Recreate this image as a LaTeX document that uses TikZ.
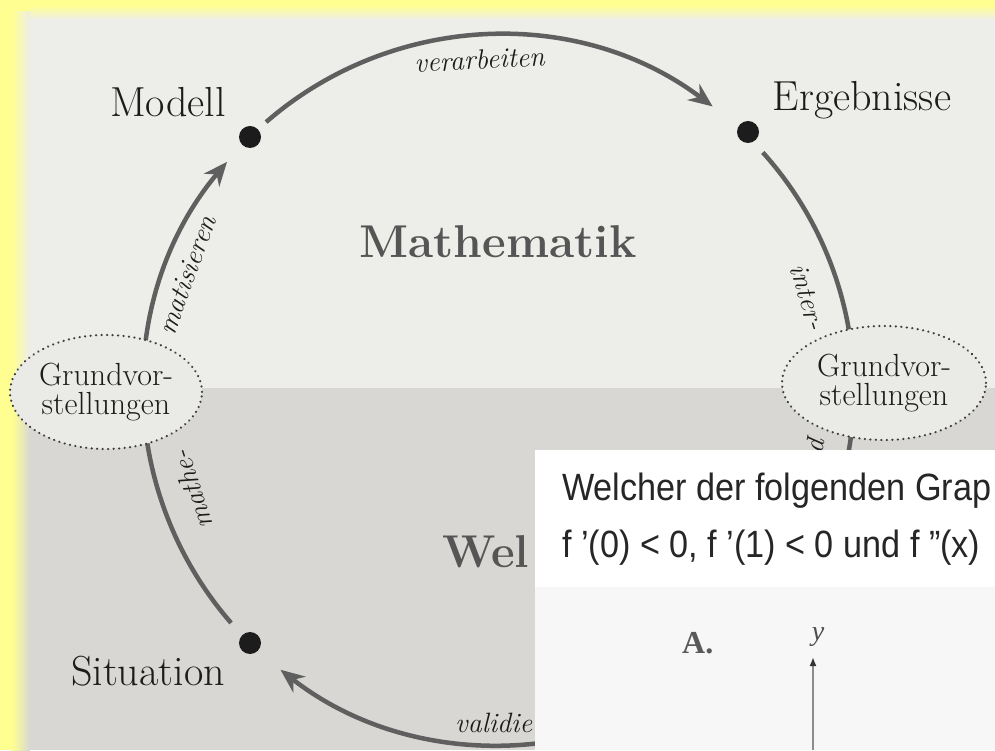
\documentclass[tikz,border=0pt]{standalone}
\usepackage{fontspec}
\newfontfamily\shotfont[FakeStretch=0.9]{Liberation Sans}
\newfontfamily\shotserif{Liberation Serif}
\usetikzlibrary{arrows.meta,positioning,calc,shapes.geometric}
\definecolor{ylw}{RGB}{255,255,145}
\definecolor{pageup}{RGB}{237,237,233}
\definecolor{pagelow}{RGB}{216,215,211}
\definecolor{ink}{RGB}{28,28,28}
\definecolor{arcgray}{RGB}{95,95,95}
\definecolor{headgray}{RGB}{85,85,85}
\definecolor{gvfill}{RGB}{234,234,231}
\definecolor{shotlow}{RGB}{247,247,247}

\begin{document}
\begin{tikzpicture}[x=1pt, y=1pt,
    dot/.style={circle, fill=ink, inner sep=0pt, minimum size=22pt},
    lbl/.style={font=\fontsize{42}{50}\selectfont, text=ink, inner sep=0pt},
    act/.style={font=\itshape\fontsize{28}{32}\selectfont, text=ink, inner sep=0pt},
    head/.style={font=\bfseries\fontsize{46}{54}\selectfont, text=headgray, inner sep=0pt},
    gv/.style={ellipse, draw=ink!85, fill=gvfill, line width=2.4pt, line cap=round,
      dash pattern=on 0.1pt off 5.4pt, inner sep=0pt, minimum width=192pt,
      minimum height=114pt, align=center, font=\fontsize{32}{29}\selectfont, text=ink},
    cyc/.style={draw=arcgray, line width=4.5pt},
    tip/.style={-{Stealth[length=24pt, width=20pt]}},
    shot/.style={font=\shotfont\fontsize{38}{44}\selectfont, text=black!85, inner sep=0pt}]
\useasboundingbox (0,0) rectangle (995,750);
\clip (0,0) rectangle (995,750);

% page on yellow
\fill[ylw] (0,0) rectangle (995,750);
\fill[pageup] (20,362) rectangle (995,738);
\fill[pagelow] (20,0) rectangle (995,362);
\shade[left color=ylw, right color=pageup] (12,362) rectangle (30,738);
\shade[left color=ylw, right color=pagelow] (12,0) rectangle (30,362);
\shade[top color=ylw, bottom color=pageup] (30,730) rectangle (995,745);

% cycle
\coordinate (c) at (499,360);
\coordinate (v0) at ($(c)+(131:355pt)$);
\coordinate (i0) at ($(c)+(42:355pt)$);
\coordinate (m0) at ($(c)+(221:355pt)$);
\coordinate (w0) at ($(c)+(300:355pt)$);
\draw[cyc, tip] (v0) arc[start angle=131, end angle=53, radius=355pt];
\draw[cyc] (i0) arc[start angle=42, end angle=-25, radius=355pt];
\draw[cyc, tip] (m0) arc[start angle=221, end angle=140, radius=355pt];
\draw[cyc, tip] (w0) arc[start angle=300, end angle=232, radius=355pt];

\node[dot] (modell) at (250,613) {};
\node[dot] (ergeb) at (748,618) {};
\node[dot] (situ) at (250,107) {};
\node[gv] (gvl) at (106,358) {Grundvor-\\stellungen};
\node[gv, minimum width=204pt] (gvr) at (884,367) {Grundvor-\\stellungen};

\node[lbl, anchor=base] (tmod) at (168,633) {Modell};
\node[lbl, anchor=base] (terg) at (862,639) {Ergebnisse};
\node[lbl, anchor=base] (tsit) at (148,65) {Situation};
\node[head, anchor=base] (math) at (498,492) {Mathematik};
\node[head, anchor=base west] (welt) at (442,183) {Wel};

\node[act, anchor=base, rotate=3] (lverarb) at (480,681) {verarbeiten};
\node[act, rotate=-73] (linter) at (808,453) {inter-};
\node[act, anchor=west, rotate=-100] (lpret) at (817,314) {p};
\node[act, rotate=70] (lmatis) at (187,475) {matisieren};
\node[act, rotate=108] (lmathe) at (192,260) {mathe-};
\node[act, anchor=base west] (lvalid) at (455,18) {validie};

% screenshot on top
\fill[white] (535,0) rectangle (995,300);
\fill[shotlow] (535,0) rectangle (995,163);
\node[shot, anchor=base west] (q1) at (562,250) {Welcher der folgenden Grap};
\node[shot, anchor=base west] (q2) at (562,193) {f ’(0) < 0, f ’(1) < 0 und f ”(x)};
\node[font=\shotserif\bfseries\fontsize{32}{36}\selectfont, text=black!65,
  anchor=base west, inner sep=0pt] (optA) at (682,97) {A.};
\node[font=\shotserif\itshape\fontsize{28}{32}\selectfont, text=black!70,
  anchor=base, inner sep=0pt] (ylab) at (818,110) {y};
\coordinate (ybot) at (813,0);
\coordinate (ytop) at (813,93);
\draw[black!45, line width=2pt, -{Latex[length=9pt, width=7pt, black!80]}] (ybot) -- (ytop);
\end{tikzpicture}
\end{document}
